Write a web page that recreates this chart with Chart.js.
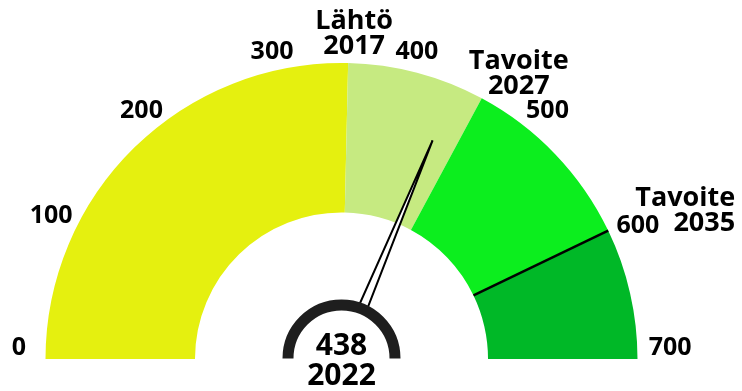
<!DOCTYPE html>
<html>
<head>
<meta charset="utf-8">
<script src="https://cdn.jsdelivr.net/npm/chart.js@4/dist/chart.umd.min.js"></script>
<style>
  body { margin: 0; background: #fff; }
  #wrap { width: 742px; height: 391px; position: relative; }
</style>
</head>
<body>
<div id="wrap"><canvas id="mittari"></canvas></div>
<script>
// asteikko ja vyöhykkeet
const scaleMax = 700;
const zoneEnds = [355, 460, 600, 700];
const zoneColors = ['#e5f00f', '#c6ea81', '#0cee1e', '#00b827'];
const tickValues = [0, 100, 200, 300, 400, 500, 600, 700];

// nykytila
const currentValue = 438;
const currentYear = '2022';

// tavoitepisteet
const milestoneValues = [355, 460, 600];
const milestoneLabels = [['Lähtö', '2017'], ['Tavoite', '2027'], ['Tavoite', '2035']];
// tekstien sijainti suhteessa vyöhykkeen reunapisteeseen
const milestoneOffsets = [
  { dx: 6, dy: -29, align: 'center' },
  { dx: 37, dy: -24, align: 'center' },
  { dx: 127, dy: -19, align: 'right' }
];

const zoneSizes = zoneEnds.map(function(v, i) {
  return v - (i === 0 ? 0 : zoneEnds[i - 1]);
});

const FONT = '"Open Sans", "Liberation Sans", sans-serif';

function valueAngle(v) {
  // kulma canvas-koordinaateissa, vasemmalta (-PI) oikealle (0)
  return -Math.PI + (v / scaleMax) * Math.PI;
}

const gaugePlugin = {
  id: 'gauge',
  afterDatasetsDraw: function(chart) {
    const ctx = chart.ctx;
    const meta = chart.getDatasetMeta(0);
    const arc = meta.data[0];
    const cx = arc.x, cy = arc.y;
    const R = arc.outerRadius, r = arc.innerRadius;

    ctx.save();

    // musta raja viimeisen vyöhykkeen alussa
    const last = meta.data[meta.data.length - 1];
    const a0 = last.startAngle;
    ctx.strokeStyle = '#000';
    ctx.lineWidth = 2.5;
    ctx.beginPath();
    ctx.moveTo(cx + r * Math.cos(a0), cy + r * Math.sin(a0));
    ctx.lineTo(cx + R * Math.cos(a0), cy + R * Math.sin(a0));
    ctx.stroke();

    // asteikon numerot
    ctx.fillStyle = '#000';
    ctx.font = 'bold 25px ' + FONT;
    ctx.textAlign = 'center';
    ctx.textBaseline = 'middle';
    tickValues.forEach(function(v) {
      const a = valueAngle(v);
      const x = cx + 3 + R * 1.1 * Math.cos(a);
      let y = cy - 11 + R * 1.025 * Math.sin(a);
      if (v === 600) y += 10; // väistää tavoitetekstiä
      ctx.fillText(String(v), x, y);
    });

    // tavoitetekstit
    ctx.font = 'bold 27px ' + FONT;
    milestoneValues.forEach(function(v, i) {
      const a = valueAngle(v);
      const o = milestoneOffsets[i];
      const x = cx + R * Math.cos(a) + o.dx;
      const y = cy + R * Math.sin(a) + o.dy;
      ctx.textAlign = o.align;
      ctx.fillText(milestoneLabels[i][0], x, y - 13);
      ctx.fillText(milestoneLabels[i][1], x, y + 12);
    });

    // osoitin
    const na = valueAngle(currentValue);
    const tipR = R * 0.8, baseR = 55, halfW = 4.5;
    const px = -Math.sin(na), py = Math.cos(na);
    const bx = cx + baseR * Math.cos(na), by = cy + baseR * Math.sin(na);
    ctx.beginPath();
    ctx.moveTo(bx + px * halfW, by + py * halfW);
    ctx.lineTo(cx + tipR * Math.cos(na), cy + tipR * Math.sin(na));
    ctx.lineTo(bx - px * halfW, by - py * halfW);
    ctx.closePath();
    ctx.fillStyle = '#fff';
    ctx.fill();
    ctx.lineWidth = 2;
    ctx.lineJoin = 'miter';
    ctx.strokeStyle = '#000';
    ctx.stroke();

    // keskiön kaari
    ctx.beginPath();
    ctx.arc(cx, cy - 0.5, 53.5, Math.PI, 2 * Math.PI);
    ctx.lineWidth = 11;
    ctx.strokeStyle = '#1e1e1e';
    ctx.stroke();

    // nykyarvo ja vuosi
    ctx.fillStyle = '#000';
    ctx.textAlign = 'center';
    ctx.font = 'bold 30px ' + FONT;
    ctx.fillText(String(currentValue), cx, cy - 13);
    ctx.fillText(currentYear, cx, cy + 17);

    ctx.restore();
  }
};

new Chart(document.getElementById('mittari'), {
  type: 'doughnut',
  data: {
    labels: ['0–355', '355–460', '460–600', '600–700'],
    datasets: [{
      data: zoneSizes,
      backgroundColor: zoneColors,
      borderWidth: 0
    }]
  },
  options: {
    responsive: true,
    maintainAspectRatio: false,
    animation: false,
    rotation: -90,
    circumference: 180,
    cutout: '49.5%',
    layout: { padding: { left: 45, right: 104, top: 63, bottom: 32 } },
    plugins: {
      legend: { display: false },
      tooltip: { enabled: false }
    }
  },
  plugins: [gaugePlugin]
});
</script>
</body>
</html>
